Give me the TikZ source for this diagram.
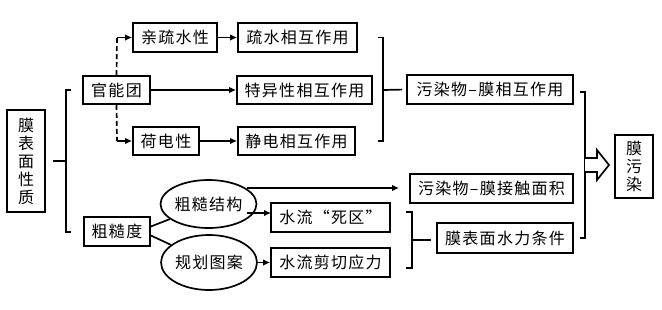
\documentclass[tikz,border=0pt]{standalone}
\usepackage{fontspec}
\setmainfont{Noto Sans CJK SC}[LetterSpace=8]
\usetikzlibrary{arrows.meta,shapes.geometric}

\begin{document}
\begin{tikzpicture}[x=1pt,y=-1pt,line width=1.7pt,
   box/.style={draw,rectangle,inner sep=0pt,font=\fontsize{16}{18}\selectfont},
   oval/.style={draw,ellipse,inner sep=0pt,font=\fontsize{16}{18}\selectfont},
   arr/.style={-{Latex[length=7pt,width=6.5pt]}}]
   \useasboundingbox (0,0) rectangle (662,309);
             \draw (26,161) node[box,minimum width=38pt,minimum height=102pt,
             align=center] (surf) {膜\\表\\面\\性\\质};
            \draw (116.5,90) node[box,minimum width=67pt,minimum height=28pt] (gng) {官能团};
            \draw (117,231.5) node[box,minimum width=66pt,minimum height=29pt] (ccd) {粗糙度};
            \draw (175,37.5) node[box,minimum width=84pt,minimum height=29pt] (qss) {亲疏水性};
            \draw (166,141) node[box,minimum width=66pt,minimum height=28pt] (hdx) {荷电性};
            \draw (297.5,37.5) node[box,minimum width=119pt,minimum height=29pt] (ssxh) {疏水相互作用};
            \draw (304.5,90) node[box,minimum width=135pt,minimum height=28pt] (tyxh) {特异性相互作用};
            \draw (296.5,141) node[box,minimum width=117pt,minimum height=28pt] (jdxh) {静电相互作用};
            \draw (490,89.5) node[box,minimum width=166pt,minimum height=29pt] (wrxh) {污染物–膜相互作用};
            \draw (491.5,188.5) node[box,minimum width=163pt,minimum height=29pt] (wrjc) {污染物–膜接触面积};
            \draw (505,238) node[box,minimum width=136pt,minimum height=30pt] (slkj) {膜表面水力条件};
            \draw (330.5,217.5) node[box,minimum width=119pt,minimum height=29pt] (sqsq) {水流“死区”};
            \draw (330.5,262.5) node[box,minimum width=119pt,minimum height=29pt] (jqyl) {水流剪切应力};
            \draw (634,166.5) node[box,minimum width=38pt,minimum height=63pt,
             align=center] (mwr) {膜\\污\\染};
            \draw (208.5,204) node[oval,minimum width=83pt,minimum height=48pt] (ccjg) {粗糙结构};
            \draw (209,262.5) node[oval,minimum width=82pt,minimum height=55pt] (ghta) {规划图案};

            \draw (71,90) -- (66,90) -- (66,232) -- (71,232);
            \draw (378,37.5) -- (383,37.5) -- (383,141) -- (378,141);
            \draw (580,92) -- (585,92) -- (585,238) -- (580,238);
            \draw (406,212) -- (412,212) -- (412,268) -- (406,268);
            \coordinate (k1) at (66,161);
            \coordinate (k2) at (383,90);
            \coordinate (k4) at (412,240);
            \coordinate (q1) at (117,37.5);
            \coordinate (q2) at (117,141);
            \coordinate (a1) at (247,188);
            \coordinate (a2) at (247,213);
            \coordinate (a3) at (271,213);
            \draw ([xshift=7pt]surf.east) -- (k1);
            \draw[shorten >=4pt] (k2) -- (wrxh.west);
            \draw[shorten >=5pt] (k4) -- (k4 -| slkj.west);

            \draw[dashed,dash pattern=on 5pt off 3pt] (gng.north) -- (q1);
            \draw[dashed,dash pattern=on 5pt off 3pt] (gng.south) -- (q2);
            \draw[arr] (q1) -- (qss.west);
            \draw[arr] (q2) -- (hdx.west);
            \draw[arr] (qss) -- (ssxh);
            \draw[arr] (gng) -- (tyxh);
            \draw[arr] (hdx) -- (jdxh);

            \draw ([yshift=5pt]ccd.east) -- (ccjg);
            \draw ([yshift=-4pt]ccd.east) -- (ghta);
            \draw[arr,shorten >=10pt] (a1) -- (wrjc.west |- a1);
            \draw[arr] (a2) -- (a3);
            \draw[arr] (ghta) -- (jqyl);

            \draw[fill=white] (585,158) -- (597,158) -- (597,150) -- (609,165)
            -- (597,180) -- (597,172) -- (585,172);
            \end{tikzpicture}
\end{document}
